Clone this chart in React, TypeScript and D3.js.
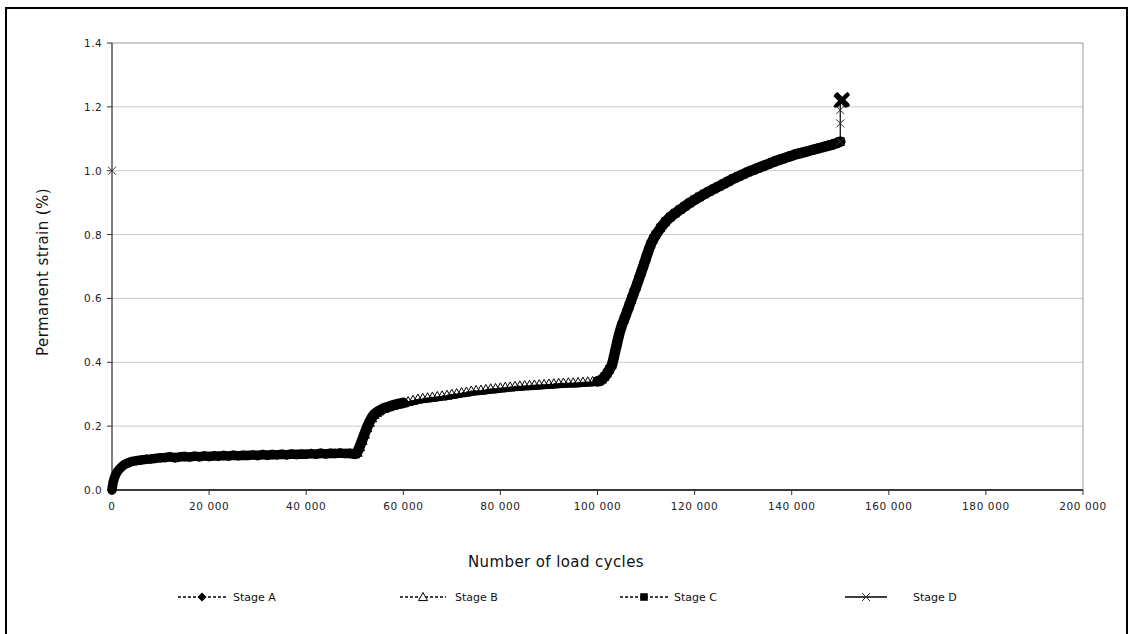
import React from 'react';
import * as d3 from 'd3';

const xTicks = [0, 20000, 40000, 60000, 80000, 100000, 120000, 140000, 160000, 180000, 200000];
const yTicks = [0, 0.2, 0.4, 0.6, 0.8, 1.0, 1.2, 1.4];

const legendLabels = ['Stage A', 'Stage B', 'Stage C', 'Stage D'];

const stageA: [number, number][] = [
  [0, 0.0], [100, 0.012], [250, 0.025], [500, 0.038], [750, 0.048], [1000, 0.055],
  [1500, 0.065], [2000, 0.073], [2500, 0.079], [3000, 0.083], [3500, 0.086], [4000, 0.089],
  [5000, 0.092], [6000, 0.094], [7000, 0.096], [8000, 0.097], [9000, 0.099], [10000, 0.101],
  [11000, 0.102], [12000, 0.104], [13000, 0.101], [14000, 0.104], [15000, 0.105], [16000, 0.103],
  [17000, 0.106], [18000, 0.104], [19000, 0.107], [20000, 0.105], [21000, 0.107], [22000, 0.106],
  [23000, 0.108], [24000, 0.106], [25000, 0.109], [26000, 0.107], [27000, 0.109], [28000, 0.108],
  [29000, 0.110], [30000, 0.108], [31000, 0.111], [32000, 0.109], [33000, 0.111], [34000, 0.110],
  [35000, 0.112], [36000, 0.110], [37000, 0.113], [38000, 0.111], [39000, 0.113], [40000, 0.112],
  [41000, 0.114], [42000, 0.112], [43000, 0.115], [44000, 0.113], [45000, 0.115], [46000, 0.114],
  [47000, 0.116], [48000, 0.114], [49000, 0.115], [50000, 0.113],
];

const stageB: [number, number][] = [
  [50000, 0.113], [50500, 0.118], [51000, 0.135], [51500, 0.155], [52000, 0.175], [52500, 0.195],
  [53000, 0.212], [53500, 0.226], [54000, 0.237], [54500, 0.243], [55000, 0.248], [56000, 0.256],
  [57000, 0.261], [58000, 0.266], [59000, 0.270], [60000, 0.273], [61000, 0.277], [62000, 0.281],
  [63000, 0.285], [64000, 0.287], [65000, 0.289], [66000, 0.291], [67000, 0.293], [68000, 0.295],
  [69000, 0.297], [70000, 0.300], [71000, 0.302], [72000, 0.305], [73000, 0.307], [74000, 0.310],
  [75000, 0.312], [76000, 0.313], [77000, 0.315], [78000, 0.317], [79000, 0.318], [80000, 0.320],
  [81000, 0.322], [82000, 0.323], [83000, 0.325], [84000, 0.326], [85000, 0.327], [86000, 0.328],
  [87000, 0.329], [88000, 0.330], [89000, 0.331], [90000, 0.332], [91000, 0.333], [92000, 0.334],
  [93000, 0.335], [94000, 0.336], [95000, 0.336], [96000, 0.337], [97000, 0.338], [98000, 0.339],
  [99000, 0.340], [100000, 0.341],
];

const stageC: [number, number][] = [
  [100000, 0.340], [100500, 0.342], [101000, 0.347], [101500, 0.355], [102000, 0.366], [102500, 0.378],
  [103000, 0.392], [103500, 0.425], [104000, 0.458], [104500, 0.490], [105000, 0.515], [105500, 0.535],
  [106000, 0.555], [106500, 0.576], [107000, 0.597], [107500, 0.618], [108000, 0.638], [108500, 0.660],
  [109000, 0.682], [109500, 0.704], [110000, 0.727], [110500, 0.750], [111000, 0.770], [111500, 0.786],
  [112000, 0.799], [113000, 0.821], [114000, 0.840], [115000, 0.855], [116000, 0.867], [117000, 0.878],
  [118000, 0.889], [119000, 0.899], [120000, 0.909], [121000, 0.918], [122000, 0.927], [123000, 0.935],
  [124000, 0.943], [125000, 0.951], [126000, 0.959], [127000, 0.967], [128000, 0.975], [129000, 0.982],
  [130000, 0.989], [131000, 0.996], [132000, 1.002], [133000, 1.008], [134000, 1.014], [135000, 1.020],
  [136000, 1.026], [137000, 1.032], [138000, 1.037], [139000, 1.042], [140000, 1.047], [141000, 1.052],
  [142000, 1.056], [143000, 1.060], [144000, 1.064], [145000, 1.068], [146000, 1.072], [147000, 1.076],
  [148000, 1.080], [149000, 1.085], [150000, 1.091],
];

const stageDIsolated: [number, number][] = [[0, 1.0]];

const stageD: [number, number][] = [
  [150000, 1.091], [150000, 1.148], [150000, 1.190], [150000, 1.218], [150200, 1.222],
  [150400, 1.225], [150600, 1.221], [150300, 1.219], [150500, 1.224],
];

const diamond = (r: number) => `M0,${-r}L${r},0L0,${r}L${-r},0Z`;
const triangle = (r: number) => `M0,${-r}L${r},${r * 0.8}L${-r},${r * 0.8}Z`;
const square = (r: number) => `M${-r},${-r}H${r}V${r}H${-r}Z`;
const cross = (r: number) => `M${-r},${-r}L${r},${r}M${r},${-r}L${-r},${r}`;

export default function App() {
  const W = 1130;
  const H = 634;
  const x = d3.scaleLinear().domain([0, 200000]).range([112, 1083]);
  const y = d3.scaleLinear().domain([0, 1.4]).range([490, 43]);
  const locale = d3.formatLocale({ decimal: '.', thousands: ' ', grouping: [3], currency: ['', ''] });
  const fmtX = locale.format(',d');
  const fmtY = d3.format('.1f');
  const line = d3.line<[number, number]>().x((d) => x(d[0])).y((d) => y(d[1]));
  const font = 'DejaVu Sans, Verdana, sans-serif';
  const [x0, x1] = x.range();
  const [yb, yt] = y.range();

  const bSteep = stageB.filter((d) => d[0] <= 60000);
  const bFlat = stageB.filter((d) => d[0] >= 58000);

  const legendItems = [
    { label: legendLabels[0], lx: 178, mx: 202, tx: 233, dash: '3,2', marker: 'A' },
    { label: legendLabels[1], lx: 400, mx: 423, tx: 455, dash: '3,2', marker: 'B' },
    { label: legendLabels[2], lx: 620, mx: 644, tx: 674, dash: '3,2', marker: 'C' },
    { label: legendLabels[3], lx: 845, mx: 866, tx: 913, dash: '', marker: 'D' },
  ];
  const ly = 597;

  const renderMarker = (m: string, cx: number, cy: number, key: string | number, legend = false) => {
    if (m === 'A') return <path key={key} d={diamond(legend ? 4.5 : 5)} transform={`translate(${cx},${cy})`} fill="#000" />;
    if (m === 'B')
      return (
        <path key={key} d={triangle(legend ? 4.5 : 5)} transform={`translate(${cx},${cy})`} fill={legend ? '#fff' : 'none'} stroke="#000" strokeWidth={1} />
      );
    if (m === 'C') return <path key={key} d={square(legend ? 3.8 : 4.3)} transform={`translate(${cx},${cy})`} fill="#000" />;
    return <path key={key} d={cross(4)} transform={`translate(${cx},${cy})`} fill="none" stroke="#333" strokeWidth={1} />;
  };

  const band = (data: [number, number][], w: number, dy = 0) => (
    <path
      d={line(data) || ''}
      transform={`translate(0,${dy})`}
      fill="none"
      stroke="#000"
      strokeWidth={w}
      strokeLinejoin="round"
      strokeLinecap="round"
    />
  );

  return (
    <svg width={W} height={H} style={{ position: 'absolute', left: 0, top: 0, background: '#fff' }}>
      <rect x={0} y={0} width={W} height={H} fill="#fff" />
      <rect x={6} y={8} width={1121} height={640} fill="none" stroke="#000" strokeWidth={2} />

      {/* grid */}
      {yTicks.map((t) => (
        <line key={`g${t}`} x1={x0} x2={x1} y1={y(t)} y2={y(t)} stroke={t === 1.4 ? '#999' : '#c8c8c8'} strokeWidth={1} />
      ))}
      <line x1={x1} x2={x1} y1={yt} y2={yb} stroke="#999" strokeWidth={1} />

      {/* axes */}
      <line x1={x0} x2={x0} y1={yt} y2={yb} stroke="#000" strokeWidth={1} />
      <line x1={x0} x2={x1} y1={yb} y2={yb} stroke="#000" strokeWidth={1.6} />
      {yTicks.map((t) => (
        <g key={`yt${t}`}>
          <line x1={x0 - 5} x2={x0} y1={y(t)} y2={y(t)} stroke="#333" />
          <text x={x0 - 10} y={y(t) + 4} textAnchor="end" fontFamily={font} fontSize={10.5} letterSpacing={0.4} fill="#222">{fmtY(t)}</text>
        </g>
      ))}
      {xTicks.map((t) => (
        <g key={`xt${t}`}>
          <line x1={x(t)} x2={x(t)} y1={yb} y2={yb + 5} stroke="#333" />
          <text x={x(t)} y={yb + 20} textAnchor="middle" fontFamily={font} fontSize={10.5} letterSpacing={0.6} fill="#222">{fmtX(t)}</text>
        </g>
      ))}

      <text transform={`translate(48,272) rotate(-90)`} textAnchor="middle" fontFamily={font} fontSize={15} letterSpacing={0.4} fill="#111">Permanent strain (%)</text>
      <text x={556} y={567} textAnchor="middle" fontFamily={font} fontSize={15} letterSpacing={0.4} fill="#111">Number of load cycles</text>

      {/* dense-point bands */}
      {band(stageA, 9.5)}
      {band(bSteep, 10.5)}
      {band(bFlat, 5, 2.5)}
      {band(stageC, 10.5)}

      {/* series lines */}
      <path d={line(stageA) || ''} fill="none" stroke="#000" strokeWidth={1} strokeDasharray="2,2" />
      <path d={line(stageB) || ''} fill="none" stroke="#000" strokeWidth={1} strokeDasharray="2,2" />
      <path d={line(stageC) || ''} fill="none" stroke="#000" strokeWidth={1} strokeDasharray="2,2" />
      <path d={line(stageD) || ''} fill="none" stroke="#000" strokeWidth={1.2} />

      {/* markers */}
      {stageA.map((d, i) => renderMarker('A', x(d[0]), y(d[1]), `a${i}`))}
      {stageB.map((d, i) => renderMarker('B', x(d[0]), y(d[1]), `b${i}`))}
      {stageC.map((d, i) => renderMarker('C', x(d[0]), y(d[1]), `c${i}`))}
      {stageDIsolated.map((d, i) => renderMarker('D', x(d[0]), y(d[1]), `di${i}`))}
      {stageD.map((d, i) =>
        d[1] > 1.21 ? (
          <path key={`d${i}`} d={cross(6)} transform={`translate(${x(d[0])},${y(d[1])})`} fill="none" stroke="#000" strokeWidth={2.6} />
        ) : (
          renderMarker('D', x(d[0]), y(d[1]), `d${i}`)
        )
      )}

      {/* legend */}
      {legendItems.map((it) => (
        <g key={it.label}>
          <line x1={it.lx} x2={it.mx + (it.mx - it.lx)} y1={ly} y2={ly} stroke="#000" strokeWidth={1.5} strokeDasharray={it.dash || undefined} />
          {renderMarker(it.marker, it.mx, ly, 'm', true)}
          <text x={it.tx} y={ly + 4} fontFamily={font} fontSize={11} fill="#111">{it.label}</text>
        </g>
      ))}
    </svg>
  );
}
